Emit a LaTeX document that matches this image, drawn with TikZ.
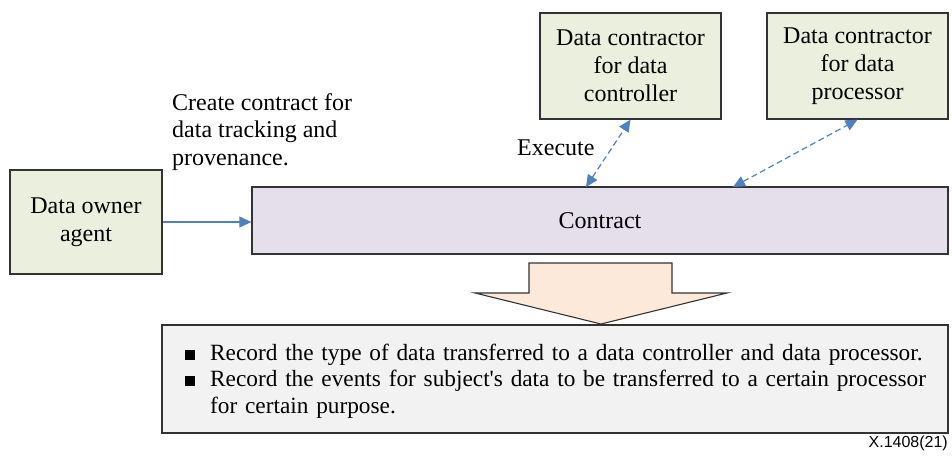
\documentclass[tikz,border=0pt]{standalone}
\usepackage{fontspec}
\setmainfont{Liberation Serif}
\setsansfont{Liberation Sans}
\usetikzlibrary{arrows.meta}
\definecolor{agentfill}{HTML}{EBEFDD}
\definecolor{contractfill}{HTML}{E5DFEC}
\definecolor{flowfill}{HTML}{FDE9D9}
\definecolor{notefill}{HTML}{F2F2F2}
\definecolor{linkblue}{HTML}{4F81BD}
\definecolor{edge}{HTML}{333333}
\tikzset{
  box/.style={draw=edge, line width=1.3pt, align=center, inner sep=0pt,
    font=\fontsize{24}{28}\selectfont},
  agent/.style={box, fill=agentfill},
  link/.style={linkblue, line width=1.2pt},
  tip/.style={-{Triangle[length=12pt,width=11pt]}},
  dtip/.style={{Triangle[length=12pt,width=11pt]}-{Triangle[length=12pt,width=11pt]}},
  label/.style={font=\fontsize{24}{27.5}\selectfont, inner sep=0pt},
  bullet/.style={font=\fontsize{23.3}{26.5}\selectfont, inner sep=0pt}
}
\newcommand{\notemark}{\makebox[25pt][l]{\raisebox{0.5pt}{\rule{10pt}{10pt}}}}
\begin{document}
\begin{tikzpicture}[x=1pt, y=-1pt]
\useasboundingbox (0,0) rectangle (952,458);

% parties and the contract
\node[agent, minimum width=152pt, minimum height=104pt] (owner) at (86,222)
  {Data owner\\agent};
\node[box, fill=contractfill, minimum width=696pt, minimum height=67pt] (contract) at (600,220.5)
  {Contract};
\node[agent, minimum width=181pt, minimum height=106pt] (ctrl) at (630.5,66)
  {Data contractor\\for data\\controller};
\node[agent, minimum width=181pt, minimum height=106pt] (proc) at (857.5,66)
  {Data contractor\\for data\\processor};

% labels
\node[label, anchor=north west, align=left] (create) at (172,93)
  {Create contract for\\data tracking and\\provenance.};
\node[label, anchor=west] (exec) at (517,148) {Execute};

% connectors
\coordinate (c1) at (586,187);
\coordinate (c2) at (733,187);
\draw[link, tip] (owner.east) -- (owner.east -| contract.west);
\draw[link, dtip, dash pattern=on 6pt off 3.5pt] (c1) -- (ctrl.south);
\draw[link, dtip, dash pattern=on 6pt off 3.5pt] (c2) -- (proc.south);

% outcome arrow
\draw[draw=edge, line width=1.1pt, fill=flowfill, line join=miter]
  (529,263) -- (672,263) -- (672,293) -- (727,293) -- (601,324)
  -- (475,293) -- (529,293) -- cycle;

% outcome note
\node[box, fill=notefill, minimum width=786pt, minimum height=108pt] (note) at (555,379) {};
\node[bullet, anchor=north west, text width=760pt, align=left] (items) at (185,343.5)
  {\hangindent=25pt\hangafter=1\notemark Record the type of data transferred to a data controller and data processor.\par
   \hangindent=25pt\hangafter=1\notemark Record the events for subject\textquotesingle s data to be transferred to a certain processor\newline for certain purpose.\par};

% figure number
\node[anchor=east, inner sep=0pt, font=\sffamily\fontsize{16}{18}\selectfont] (fig) at (948,443) {X.1408(21)};
\end{tikzpicture}
\end{document}
